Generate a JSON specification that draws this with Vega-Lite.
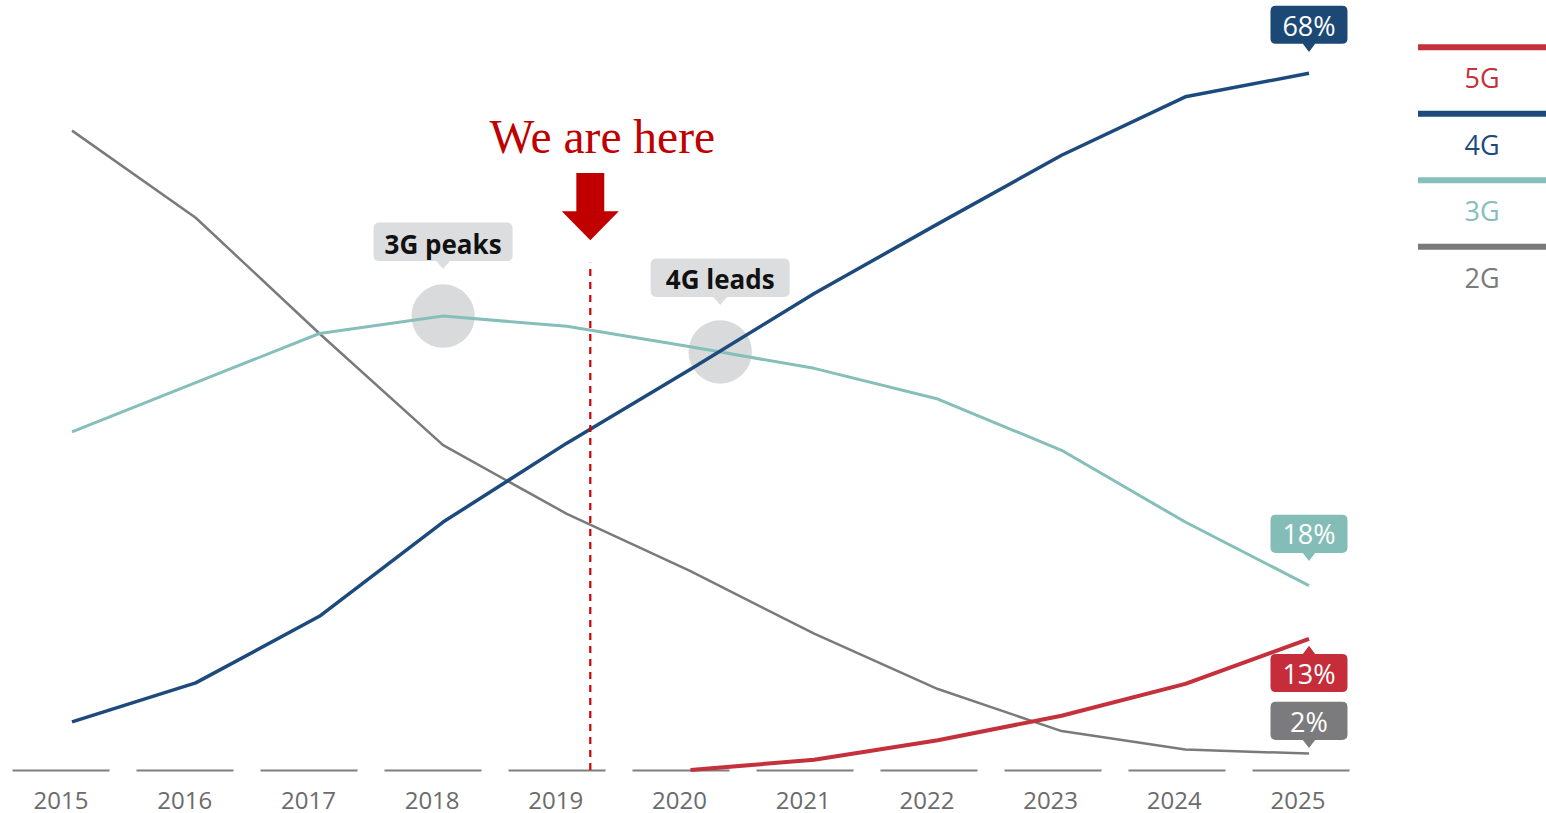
{
  "$schema": "https://vega.github.io/schema/vega-lite/v6.json",
  "autosize": {"type": "pad"},
  "padding": {"left": 12, "top": 5, "right": 0, "bottom": 0},
  "background": "white",
  "config": {"view": {"stroke": null}},
  "spacing": 50,
  "bounds": "flush",
  "datasets": {
    "share": [
      {"series": "2G", "year": 2015, "value": 62.4},
      {"series": "2G", "year": 2016, "value": 53.9},
      {"series": "2G", "year": 2017, "value": 42.6},
      {"series": "2G", "year": 2018, "value": 31.7},
      {"series": "2G", "year": 2019, "value": 25.0},
      {"series": "2G", "year": 2020, "value": 19.4},
      {"series": "2G", "year": 2021, "value": 13.3},
      {"series": "2G", "year": 2022, "value": 7.9},
      {"series": "2G", "year": 2023, "value": 3.8},
      {"series": "2G", "year": 2024, "value": 2.0},
      {"series": "2G", "year": 2025, "value": 1.6},
      {"series": "3G", "year": 2015, "value": 33.0},
      {"series": "3G", "year": 2016, "value": 37.8},
      {"series": "3G", "year": 2017, "value": 42.6},
      {"series": "3G", "year": 2018, "value": 44.3},
      {"series": "3G", "year": 2019, "value": 43.3},
      {"series": "3G", "year": 2020, "value": 41.3},
      {"series": "3G", "year": 2021, "value": 39.2},
      {"series": "3G", "year": 2022, "value": 36.2},
      {"series": "3G", "year": 2023, "value": 31.2},
      {"series": "3G", "year": 2024, "value": 24.2},
      {"series": "3G", "year": 2025, "value": 18.0},
      {"series": "4G", "year": 2015, "value": 4.7},
      {"series": "4G", "year": 2016, "value": 8.5},
      {"series": "4G", "year": 2017, "value": 15.0},
      {"series": "4G", "year": 2018, "value": 24.2},
      {"series": "4G", "year": 2019, "value": 31.9},
      {"series": "4G", "year": 2020, "value": 39.1},
      {"series": "4G", "year": 2021, "value": 46.5},
      {"series": "4G", "year": 2022, "value": 53.3},
      {"series": "4G", "year": 2023, "value": 60.0},
      {"series": "4G", "year": 2024, "value": 65.7},
      {"series": "4G", "year": 2025, "value": 68.0},
      {"series": "5G", "year": 2020, "value": 0.0},
      {"series": "5G", "year": 2021, "value": 1.0},
      {"series": "5G", "year": 2022, "value": 2.9},
      {"series": "5G", "year": 2023, "value": 5.3},
      {"series": "5G", "year": 2024, "value": 8.4},
      {"series": "5G", "year": 2025, "value": 12.8}
    ],
    "notes": [
      {"label": "3G peaks", "year": 2018, "value": 44.3},
      {"label": "4G leads", "year": 2020.24, "value": 40.8}
    ],
    "marker": [
      {"label": "We are here", "year": 2019.19, "low": 0, "high": 49.5, "arrowTip": 51.7, "textBase": 60.2}
    ],
    "legend": [
      {"series": "5G"},
      {"series": "4G"},
      {"series": "3G"},
      {"series": "2G"}
    ]
  },
  "hconcat": [
    {
      "width": 1356,
      "height": 765,
      "encoding": {
        "x": {
          "field": "year", "type": "quantitative",
          "scale": {"domain": [2014.515, 2025.477], "nice": false, "zero": false},
          "axis": {
            "values": [2015, 2016, 2017, 2018, 2019, 2020, 2021, 2022, 2023, 2024, 2025],
            "format": "d", "title": null, "grid": false, "ticks": false, "tickSize": 0,
            "domain": true, "domainColor": "#7f7f7f", "domainWidth": 2, "domainDash": [97, 27],
            "labelFont": "Open Sans", "labelFontSize": 24, "labelColor": "#6b6b6b",
            "labelPadding": 19, "labelOffset": -11.5, "labelFlush": false, "labelOverlap": false
          }
        },
        "y": {
          "field": "value", "type": "quantitative",
          "scale": {"domain": [0, 74.66], "nice": false, "zero": true},
          "axis": {
            "values": [10, 20, 30, 40, 50, 60, 70], "title": null, "labels": false,
            "ticks": false, "domain": false, "grid": true, "gridColor": "#e1e1e1", "gridWidth": 2
          }
        }
      },
      "layer": [
        {
          "data": {"name": "notes"},
          "mark": {"type": "point", "shape": "circle", "size": 4020, "filled": true, "fill": "#d9dadc", "opacity": 1, "strokeWidth": 0}
        },
        {
          "data": {"name": "share"},
          "mark": {"type": "line", "strokeJoin": "round", "strokeCap": "butt"},
          "encoding": {
            "color": {
              "field": "series", "type": "nominal",
              "scale": {"domain": ["5G", "4G", "3G", "2G"], "range": ["#c4303b", "#1d4a7c", "#86bfba", "#7a7a7a"]},
              "legend": null
            },
            "strokeWidth": {
              "field": "series", "type": "nominal",
              "scale": {"domain": ["5G", "4G", "3G", "2G"], "range": [4, 2.5, 2.5, 2.5]},
              "legend": null
            }
          }
        },
        {
          "data": {"name": "marker"},
          "mark": {"type": "rule", "stroke": "#d00000", "strokeWidth": 2.2, "strokeDash": [7, 6]},
          "encoding": {
            "y": {"field": "low", "type": "quantitative", "axis": null},
            "y2": {"field": "high"}
          }
        },
        {
          "data": {"name": "marker"},
          "mark": {"type": "point", "shape": "M0,0L-1,-1.02L-0.49,-1.02L-0.49,-2.36L0.49,-2.36L0.49,-1.02L1,-1.02Z", "size": 3249, "filled": true, "fill": "#c00000", "opacity": 1, "strokeWidth": 0},
          "encoding": {
            "y": {"field": "arrowTip", "type": "quantitative", "axis": null}
          }
        },
        {
          "data": {"name": "marker"},
          "mark": {"type": "text", "font": "Liberation Serif", "fontSize": 47.5, "fill": "#c00000", "baseline": "alphabetic", "align": "center", "dx": 12},
          "encoding": {
            "text": {"field": "label"},
            "y": {"field": "textBase", "type": "quantitative", "axis": null}
          }
        },
        {
          "data": {"name": "notes"},
          "layer": [
            {
              "mark": {"type": "point", "shape": "M0,0L-0.1,-0.115L-0.914,-0.115Q-1,-0.115,-1,-0.2L-1,-0.584Q-1,-0.669,-0.914,-0.669L0.914,-0.669Q1,-0.669,1,-0.584L1,-0.2Q1,-0.115,0.914,-0.115L0.1,-0.115Z", "size": 19321, "filled": true, "fill": "#dcdddf", "opacity": 1, "strokeWidth": 0},
              "encoding": {"yOffset": {"value": -47}}
            },
            {
              "mark": {"type": "text", "font": "Open Sans", "fontWeight": "bold", "fontSize": 26, "fill": "#111111", "baseline": "alphabetic", "align": "center"},
              "encoding": {"text": {"field": "label"}, "yOffset": {"value": -62.5}}
            }
          ]
        },
        {
          "data": {"name": "share"},
          "transform": [
            {"filter": "datum.series === '4G' && datum.year === 2025"},
            {"calculate": "format(datum.value, 'd') + '%'", "as": "label"}
          ],
          "layer": [
            {
              "mark": {"type": "point", "shape": "M0,0L-0.16,-0.21L-0.86,-0.21Q-1,-0.21,-1,-0.35L-1,-1.06Q-1,-1.2,-0.86,-1.2L0.86,-1.2Q1,-1.2,1,-1.06L1,-0.35Q1,-0.21,0.86,-0.21L0.16,-0.21Z", "size": 5929, "filled": true, "fill": "#1c4876", "opacity": 1, "strokeWidth": 0},
              "encoding": {"yOffset": {"value": -21.3}}
            },
            {
              "mark": {"type": "text", "font": "Open Sans", "fontSize": 27, "fill": "white", "baseline": "alphabetic", "align": "center"},
              "encoding": {"text": {"field": "label"}, "yOffset": {"value": -37.3}}
            }
          ]
        },
        {
          "data": {"name": "share"},
          "transform": [
            {"filter": "datum.series === '3G' && datum.year === 2025"},
            {"calculate": "format(datum.value, 'd') + '%'", "as": "label"}
          ],
          "layer": [
            {
              "mark": {"type": "point", "shape": "M0,0L-0.16,-0.21L-0.86,-0.21Q-1,-0.21,-1,-0.35L-1,-1.06Q-1,-1.2,-0.86,-1.2L0.86,-1.2Q1,-1.2,1,-1.06L1,-0.35Q1,-0.21,0.86,-0.21L0.16,-0.21Z", "size": 5929, "filled": true, "fill": "#84bdb7", "opacity": 1, "strokeWidth": 0},
              "encoding": {"yOffset": {"value": -24.6}}
            },
            {
              "mark": {"type": "text", "font": "Open Sans", "fontSize": 27, "fill": "white", "baseline": "alphabetic", "align": "center"},
              "encoding": {"text": {"field": "label"}, "yOffset": {"value": -41.3}}
            }
          ]
        },
        {
          "data": {"name": "share"},
          "transform": [
            {"filter": "datum.series === '5G' && datum.year === 2025"},
            {"calculate": "format(datum.value, 'd') + '%'", "as": "label"}
          ],
          "layer": [
            {
              "mark": {"type": "point", "shape": "M0,0L0.16,0.21L0.86,0.21Q1,0.21,1,0.35L1,1.06Q1,1.2,0.86,1.2L-0.86,1.2Q-1,1.2,-1,1.06L-1,0.35Q-1,0.21,-0.86,0.21L-0.16,0.21Z", "size": 5929, "filled": true, "fill": "#c42d39", "opacity": 1, "strokeWidth": 0},
              "encoding": {"yOffset": {"value": 7}}
            },
            {
              "mark": {"type": "text", "font": "Open Sans", "fontSize": 27, "fill": "white", "baseline": "alphabetic", "align": "center"},
              "encoding": {"text": {"field": "label"}, "yOffset": {"value": 45.4}}
            }
          ]
        },
        {
          "data": {"name": "share"},
          "transform": [
            {"filter": "datum.series === '2G' && datum.year === 2025"},
            {"calculate": "format(datum.value, 'd') + '%'", "as": "label"}
          ],
          "layer": [
            {
              "mark": {"type": "point", "shape": "M0,0L-0.16,-0.21L-0.86,-0.21Q-1,-0.21,-1,-0.35L-1,-1.06Q-1,-1.2,-0.86,-1.2L0.86,-1.2Q1,-1.2,1,-1.06L1,-0.35Q1,-0.21,0.86,-0.21L0.16,-0.21Z", "size": 5929, "filled": true, "fill": "#7b7b7d", "opacity": 1, "strokeWidth": 0},
              "encoding": {"yOffset": {"value": -5.6}}
            },
            {
              "mark": {"type": "text", "font": "Open Sans", "fontSize": 27, "fill": "white", "baseline": "alphabetic", "align": "center"},
              "encoding": {"text": {"field": "label"}, "yOffset": {"value": -21.3}}
            }
          ]
        }
      ]
    },
    {
      "width": 128,
      "height": 284,
      "data": {"name": "legend"},
      "encoding": {
        "y": {
          "field": "series", "type": "nominal",
          "scale": {"type": "point", "domain": ["5G", "4G", "3G", "2G"], "padding": 0.637},
          "axis": null
        },
        "color": {
          "field": "series", "type": "nominal",
          "scale": {"domain": ["5G", "4G", "3G", "2G"], "range": ["#c4303b", "#1d4a7c", "#86bfba", "#7a7a7a"]},
          "legend": null
        }
      },
      "layer": [
        {"mark": {"type": "rule", "strokeWidth": 6}},
        {
          "mark": {"type": "text", "font": "Open Sans", "fontSize": 27, "baseline": "alphabetic", "align": "center", "dy": 41},
          "encoding": {"text": {"field": "series"}}
        }
      ]
    }
  ]
}
